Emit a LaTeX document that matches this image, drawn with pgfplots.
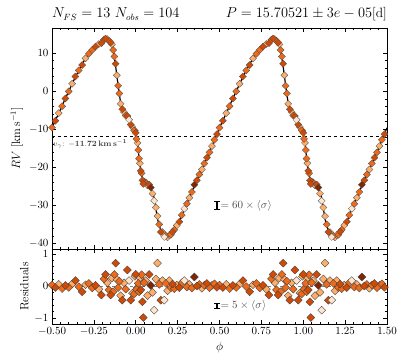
\documentclass[border=0pt]{standalone}
\usepackage{pgfplots}
\usepackage{pgfplotstable}
\pgfplotsset{compat=1.18}

\definecolor{cW}{HTML}{FEE6CE}
\definecolor{cL}{HTML}{FDAE6B}
\definecolor{cM}{HTML}{EE6A1A}
\definecolor{cD}{HTML}{D04A06}
\definecolor{cX}{HTML}{7F2704}

% Fourier fit, one cycle
\pgfplotstableread{
ph rv
-0.50 -9.6
-0.46 -5.8
-0.42 -1.9
-0.38 1.9
-0.34 5.5
-0.30 8.6
-0.26 10.9
-0.22 12.5
-0.19 13.3
-0.17 13.6
-0.15 13.1
-0.135 11.0
-0.12 6.5
-0.105 1.5
-0.09 -3.0
-0.07 -5.6
-0.05 -7.0
-0.03 -8.3
-0.01 -10.0
0.00 -11.3
0.01 -13.5
0.02 -17.5
0.03 -20.8
0.04 -22.9
0.05 -23.8
0.07 -24.4
0.09 -25.3
0.11 -28.0
0.13 -33.5
0.15 -36.5
0.17 -37.8
0.19 -38.2
0.21 -37.6
0.23 -36.3
0.26 -34.2
0.29 -31.0
0.32 -28.0
0.35 -24.8
0.38 -21.9
0.41 -19.0
0.44 -16.0
0.47 -12.8
0.50 -9.6
}\curve

% observations, split by colour (epoch)
\pgfplotstableread{
ph rv res
-0.04 -7.48 0.17
0.11 -28.75 -0.75
0.17 -38.24 -0.44
0.29 -30.83 0.17
}\obsW

\pgfplotstableread{
ph rv res
-0.46 -5.75 0.05
-0.38 1.96 0.06
-0.30 8.64 0.04
-0.22 12.4 -0.10
-0.17 13.7 0.10
-0.1425 12.3 0.25
-0.1125 4.2 0.20
-0.09 -3.3 -0.30
-0.07 -5.5 0.10
-0.02 -9.37 -0.22
-0.005 -10.35 0.30
0.01 -13.55 -0.05
0.025 -18.9 0.25
0.06 -23.93 0.17
0.07 -24.7 -0.30
0.10 -26.85 -0.20
0.12 -30.53 0.22
0.13 -32.79 0.71
0.16 -36.98 0.17
0.19 -38.35 -0.15
0.20 -37.73 0.17
0.245 -35.22 0.03
0.32 -27.95 0.05
0.395 -20.52 -0.07
0.455 -14.38 0.02
}\obsL

\pgfplotstableread{
ph rv res
-0.50 -9.57 0.03
-0.44 -3.93 -0.08
-0.40 -0.04 -0.04
-0.34 5.48 -0.02
-0.28 9.83 0.08
-0.26 10.84 -0.06
-0.19 13.52 0.22
-0.16 13.23 -0.12
-0.135 10.82 -0.18
-0.1275 9.11 0.36
-0.105 1.45 -0.05
-0.0975 -0.6 0.15
-0.06 -6.4 -0.10
-0.01 -10.25 -0.25
0.005 -12.5 -0.10
0.015 -15.42 0.08
0.02 -17.68 -0.18
0.035 -21.5 0.35
0.05 -23.7 0.10
0.14 -34.95 0.05
0.18 -37.92 0.08
0.21 -37.65 -0.05
0.23 -36.38 -0.08
0.275 -32.5 0.10
0.305 -29.53 -0.03
0.335 -26.46 -0.06
0.38 -21.85 0.05
0.41 -18.97 0.03
0.44 -16.05 -0.05
0.47 -12.73 0.07
}\obsM

\pgfplotstableread{
ph rv res
-0.48 -7.75 -0.05
-0.42 -1.88 0.02
-0.36 3.87 0.17
-0.32 6.87 -0.18
-0.24 11.72 0.02
-0.205 12.62 -0.28
-0.18 13.81 0.36
-0.15 12.82 -0.28
-0.12 7.21 0.71
-0.08 -4.74 -0.44
-0.05 -6.5 0.50
-0.03 -8.74 -0.44
0.00 -10.94 0.36
0.03 -20.92 -0.12
0.04 -23.39 -0.49
0.045 -24.33 -0.98
0.08 -24.49 0.36
0.15 -36.94 -0.44
0.22 -36.89 0.06
0.26 -34.25 -0.05
0.365 -23.35 0.00
0.425 -17.42 0.08
0.485 -11.24 -0.04
}\obsD

\pgfplotstableread{
ph rv res
0.09 -25.28 0.02
0.35 -24.52 0.28
}\obsX

\pgfplotsset{
  panel/.style={
    scale only axis, width=335pt,
    xmin=-0.5, xmax=1.5,
    xtick={-0.5,-0.25,...,1.5}, minor x tick num=4,
    xtick pos=both, ytick pos=both, tick align=inside,
    major tick length=4pt, minor tick length=2pt,
    every tick/.style={black, line width=0.6pt},
    axis line style={line width=0.8pt},
    clip=true,
  },
  sigbar/.style={draw=none, mark=none, forget plot,
    error bars/.cd, y dir=both, y explicit,
    error bar style={line width=1.8pt, black},
    error mark options={rotate=90, mark size=3pt, line width=1.3pt, black}},
}

% each observation is shown at phase and phase+1
\newcommand{\obstop}[2]{%
  \addplot[only marks, mark=square*, mark size=2.5pt,
    mark options={rotate=45, draw=black!70, line width=0.3pt, fill=#2}] table[x=ph, y=rv] {#1};
  \addplot[only marks, mark=square*, mark size=2.5pt,
    mark options={rotate=45, draw=black!70, line width=0.3pt, fill=#2}] table[x expr=\thisrow{ph}+1, y=rv] {#1};
}
\newcommand{\obsres}[2]{%
  \addplot[only marks, mark=square*, mark size=2.8pt,
    mark options={rotate=45, draw=black!75, line width=0.35pt, fill=#2}] table[x=ph, y=res] {#1};
  \addplot[only marks, mark=square*, mark size=2.8pt,
    mark options={rotate=45, draw=black!75, line width=0.35pt, fill=#2}] table[x expr=\thisrow{ph}+1, y=res] {#1};
}

\begin{document}
\begin{tikzpicture}[font=\fontsize{11}{13}\selectfont]
\begin{axis}[panel, name=top, height=221pt,
    ymin=-41.4, ymax=16.6,
    ytick={-40,-30,...,10}, minor y tick num=4,
    xticklabels={},
    ylabel={$RV$ [$\mathrm{km\,s^{-1}}$]},
    ylabel style={yshift=-1pt, font=\fontsize{12}{14}\selectfont},
]
\addplot[black, dashed, line width=0.8pt] coordinates {(-0.5,-11.72) (1.5,-11.72)};
\obstop{\obsL}{cL}
\obstop{\obsM}{cM}
\obstop{\obsD}{cD}
\obstop{\obsW}{cW}
\obstop{\obsX}{cX}
\addplot[black, line width=1.2pt, smooth, tension=0.3] table[x=ph, y=rv] {\curve};
\addplot[black, line width=1.2pt, smooth, tension=0.3] table[x expr=\thisrow{ph}+1, y=rv] {\curve};
\node[anchor=north west, text=black!75, font=\footnotesize, inner sep=1pt]
  at (axis cs:-0.5,-12.3) {$v_\gamma$: $\mathbf{-11.72\,km\,s^{-1}}$};
\addplot[sigbar] coordinates {(0.487,-30) +- (0,1.05)};
\node[anchor=west, text=black!70, inner sep=1pt] at (axis cs:0.50,-30) {$= 60\times\langle\sigma\rangle$};
\end{axis}
\node[anchor=base west, inner sep=0pt, font=\fontsize{13.5}{15}\selectfont] at ([yshift=10pt]top.north west) {$N_{FS} = 13$ $N_{obs} = 104$};
\node[anchor=base east, inner sep=0pt, font=\fontsize{13.5}{15}\selectfont] at ([yshift=10pt]top.north east) {$P = 15.70521 \pm 3e-05$[d]};

\begin{axis}[panel, name=bot, height=75pt,
    at={([yshift=-3pt]top.south west)}, anchor=north west,
    ymin=-1.18, ymax=1.15,
    ytick={-1,0,1}, minor y tick num=4,
    xticklabel style={/pgf/number format/.cd, fixed, fixed zerofill, precision=2},
    xlabel={$\phi$},
    xlabel style={font=\fontsize{12}{14}\selectfont},
    ylabel={Residuals},
    ylabel style={yshift=-1pt, font=\fontsize{12}{14}\selectfont},
]
\addplot[gray, dashed, line width=1pt] coordinates {(-0.5,0) (1.5,0)};
\obsres{\obsL}{cL}
\obsres{\obsM}{cM}
\obsres{\obsD}{cD}
\obsres{\obsW}{cW}
\obsres{\obsX}{cX}
\addplot[sigbar] coordinates {(0.487,-0.62) +- (0,0.085)};
\node[anchor=west, text=black!70, inner sep=1pt] at (axis cs:0.50,-0.62) {$= 5\times\langle\sigma\rangle$};
\end{axis}
\pgfresetboundingbox
\path[use as bounding box] ([xshift=-52pt, yshift=28pt]top.north west) rectangle ([xshift=20pt, yshift=-39pt]bot.south east);
\end{tikzpicture}
\end{document}
